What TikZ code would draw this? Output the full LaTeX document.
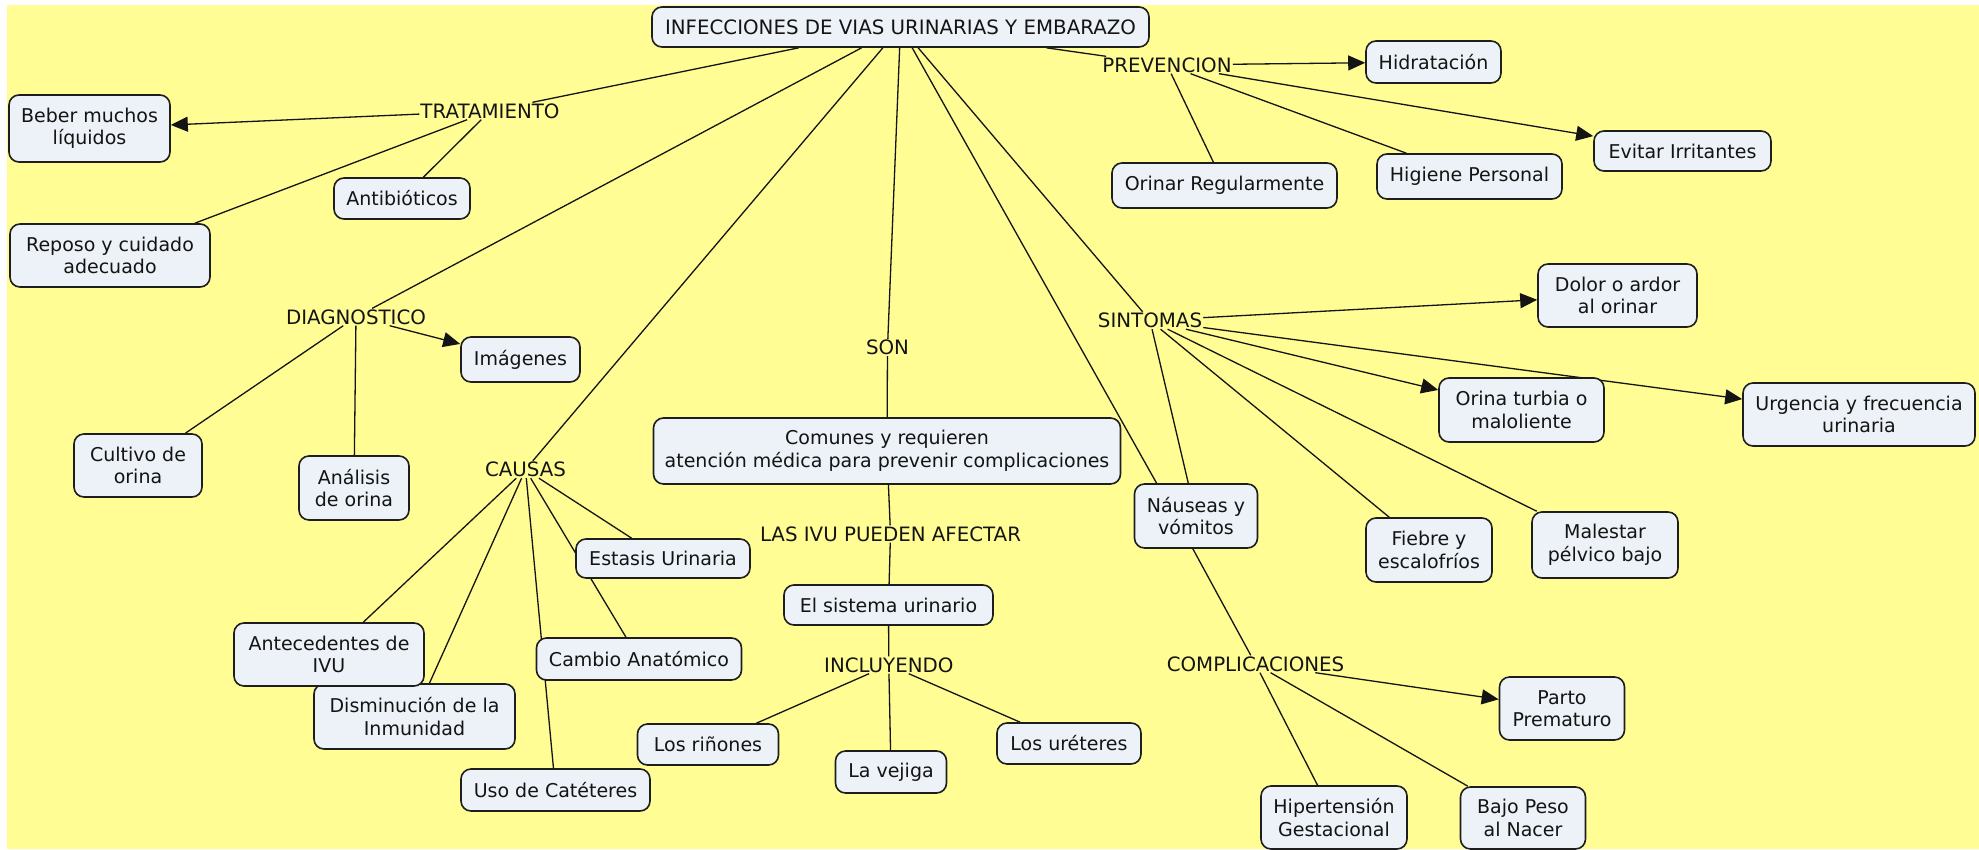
\documentclass[tikz,border=0pt]{standalone}
\usepackage{fontspec}
\setmainfont{DejaVu Sans}
\usetikzlibrary{arrows.meta}
\definecolor{bgyellow}{RGB}{255,253,148}
\definecolor{boxfill}{RGB}{236,242,248}
\definecolor{boxline}{RGB}{30,30,30}
\definecolor{inkc}{RGB}{20,20,20}
\pgfdeclarelayer{back}
\pgfdeclarelayer{edges}
\pgfsetlayers{back,edges,main}
\newcommand{\mapfont}{\fontsize{19}{22.5}\selectfont}
\newcommand{\capsfont}{\fontsize{19.8}{23}\selectfont}
\begin{document}
\begin{tikzpicture}[x=1pt,y=-1pt,
  cbox/.style={draw=boxline, fill=boxfill, rounded corners=10pt, line width=1.6pt,
    align=center, inner sep=0pt, font=\mapfont, text=inkc},
  sz/.style 2 args={minimum width=#1pt, minimum height=#2pt},
  lab/.style={inner sep=1pt, font=\capsfont, text=inkc},
  conn/.style={line width=1.3pt, draw=inkc},
  arr/.style={conn, -{Triangle[length=17pt,width=15pt]}}]
\useasboundingbox (0,0) rectangle (1979,849);
\begin{pgfonlayer}{back}
\fill[white] (0,0) rectangle (1979,849);
\fill[bgyellow] (7,5) rectangle (1979,849);
\end{pgfonlayer}

% concepts
\node[cbox, sz={497}{40}, font=\capsfont] (root) at (900.5,27) {INFECCIONES DE VIAS URINARIAS Y EMBARAZO};
\node[cbox, sz={161}{67}] (beber) at (89.5,128.5) {Beber muchos\\líquidos};
\node[cbox, sz={136}{41}] (antib) at (402,198.5) {Antibióticos};
\node[cbox, sz={200}{63}] (reposo) at (110,255.5) {Reposo y cuidado\\adecuado};
\node[cbox, sz={135}{42}] (hidra) at (1433.5,62) {Hidratación};
\node[cbox, sz={225}{45}] (orinar) at (1224.5,185.5) {Orinar Regularmente};
\node[cbox, sz={185}{45}] (higiene) at (1469.5,176.5) {Higiene Personal};
\node[cbox, sz={177}{40}] (evitar) at (1682.5,151) {Evitar Irritantes};
\node[cbox, sz={159}{63}] (dolor) at (1617.5,295.5) {Dolor o ardor\\al orinar};
\node[cbox, sz={165}{64}] (turbia) at (1521.5,410) {Orina turbia o\\maloliente};
\node[cbox, sz={232}{63}] (urgencia) at (1859,414.5) {Urgencia y frecuencia\\urinaria};
\node[cbox, sz={126}{64}] (fiebre) at (1429,550) {Fiebre y\\escalofríos};
\node[cbox, sz={146}{66}] (malestar) at (1605,545) {Malestar\\pélvico bajo};
\node[cbox, sz={123}{64}] (naus) at (1196,516) {Náuseas y\\vómitos};
\node[cbox, sz={467}{66}] (comunes) at (887,451) {Comunes y requieren\\atención médica para prevenir complicaciones};
\node[cbox, sz={174}{39}] (estasis) at (663,558.5) {Estasis Urinaria};
\node[cbox, sz={119}{45}] (imag) at (520.5,359.5) {Imágenes};
\node[cbox, sz={128}{63}] (cult) at (138,465.5) {Cultivo de\\orina};
\node[cbox, sz={110}{64}] (anal) at (354,488) {Análisis\\de orina};
\node[cbox, sz={201}{65}] (dismin) at (414.5,716.5) {Disminución de la\\Inmunidad};
\node[cbox, sz={190}{63}] (antec) at (329,654.5) {Antecedentes de\\IVU};
\node[cbox, sz={205}{42}] (cambio) at (639,659) {Cambio Anatómico};
\node[cbox, sz={189}{42}] (uso) at (555.5,790) {Uso de Catéteres};
\node[cbox, sz={209}{40}] (sistema) at (888.5,605) {El sistema urinario};
\node[cbox, sz={141}{41}] (rinones) at (708,744.5) {Los riñones};
\node[cbox, sz={111}{42}] (vejiga) at (891,772) {La vejiga};
\node[cbox, sz={144}{41}] (ureteres) at (1069,743.5) {Los uréteres};
\node[cbox, sz={125}{63}] (parto) at (1562,708.5) {Parto\\Prematuro};
\node[cbox, sz={146}{63}] (hiper) at (1334,817.5) {Hipertensión\\Gestacional};
\node[cbox, sz={125}{62}] (bajo) at (1523,818) {Bajo Peso\\al Nacer};

% linking phrases
\node[lab] (trat) at (490,111) {TRATAMIENTO};
\node[lab] (prev) at (1167,65) {PREVENCION};
\node[lab] (diag) at (356,317) {DIAGNOSTICO};
\node[lab] (causas) at (525.5,469.5) {CAUSAS};
\node[lab] (son) at (887.5,347.5) {SON};
\node[lab] (ivu) at (890.5,534) {LAS IVU PUEDEN AFECTAR};
\node[lab] (incl) at (888.8,665) {INCLUYENDO};
\node[lab] (sint) at (1150,320.5) {SINTOMAS};
\node[lab] (compl) at (1255.5,664) {COMPLICACIONES};

\begin{pgfonlayer}{edges}
\draw[conn] (root) -- (trat);
\draw[arr] (trat) -- (beber);
\draw[conn] (trat) -- (antib);
\draw[conn] (trat) -- (reposo);
\draw[conn] (root) -- (diag);
\draw[arr] (diag) -- (imag);
\draw[conn] (diag) -- (cult);
\draw[conn] (diag) -- (anal);
\draw[conn] (root) -- (causas);
\draw[conn] (causas) -- (estasis);
\draw[conn] (causas) -- (antec);
\draw[conn] (causas) -- (dismin);
\draw[conn] (causas) -- (uso);
\draw[conn] (causas) -- (cambio);
\draw[conn] (root) -- (son);
\draw[conn] (son) -- (comunes);
\draw[conn] (comunes) -- (ivu);
\draw[conn] (ivu) -- (sistema);
\draw[conn] (sistema) -- (incl);
\draw[conn] (incl) -- (rinones);
\draw[conn] (incl) -- (vejiga);
\draw[conn] (incl) -- (ureteres);
\draw[conn] (root) -- (prev);
\draw[arr] (prev) -- (hidra);
\draw[conn] (prev) -- (orinar);
\draw[conn] (prev) -- (higiene);
\draw[arr] (prev) -- (evitar);
\draw[conn] (root) -- (sint);
\draw[arr] (sint) -- (dolor);
\draw[arr] (sint) -- (turbia);
\draw[arr] (sint) -- (urgencia);
\draw[conn] (sint) -- (fiebre);
\draw[conn] (sint) -- (malestar);
\draw[conn] (sint) -- (naus);
\draw[conn] (root) -- ([xshift=-21pt]naus.center);
\draw[conn] ([xshift=-21pt]naus.center) -- (compl);
\draw[arr] (compl) -- (parto);
\draw[conn] (compl) -- (hiper);
\draw[conn] (compl) -- (bajo);
\end{pgfonlayer}
\end{tikzpicture}
\end{document}
